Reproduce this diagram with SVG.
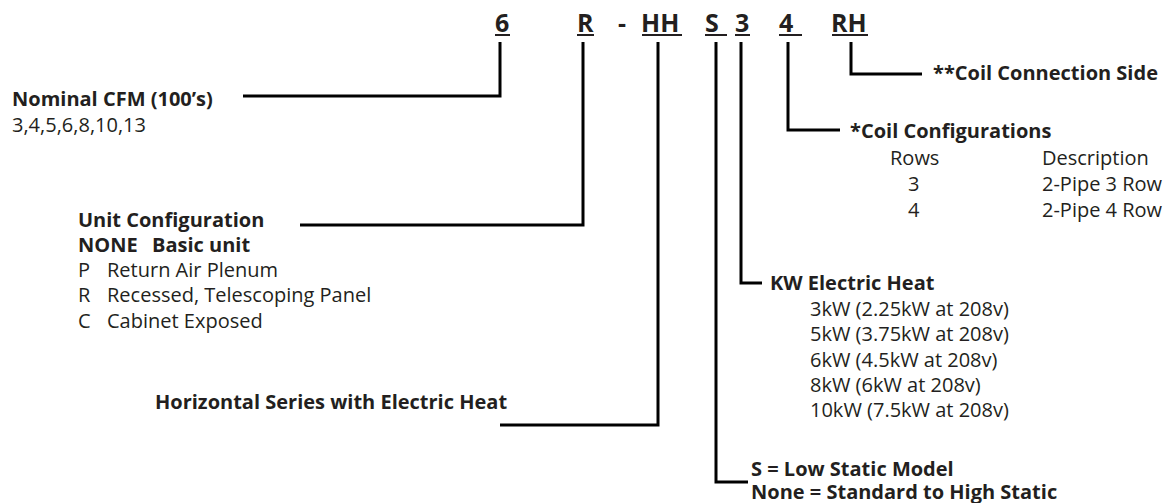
<svg xmlns="http://www.w3.org/2000/svg" width="1168" height="503" viewBox="0 0 1168 503">
<style>
text{font-family:"Open Sans","Noto Sans","Liberation Sans",sans-serif;fill:#231f20}
.h{font-size:25px;font-weight:bold}
.b{font-size:20px;font-weight:bold}
.r{font-size:20px}
.ln{fill:none;stroke:#000;stroke-width:3}
.ul{stroke:#231f20;stroke-width:2}
</style>
<rect width="1168" height="503" fill="#fff"/>
<g id="header">
<text class="h" x="495" y="32">6</text>
<text class="h" x="577" y="32">R</text>
<text class="h" x="618" y="32">-</text>
<text class="h" x="641" y="32">HH</text>
<text class="h" x="705" y="32">S</text>
<text class="h" x="735" y="32">3</text>
<text class="h" x="779" y="32">4</text>
<text class="h" x="831" y="32">RH</text>
<g class="ul">
<line x1="495" y1="35" x2="510" y2="35"/>
<line x1="577" y1="35" x2="594" y2="35"/>
<line x1="642" y1="35" x2="682" y2="35"/>
<line x1="705" y1="35" x2="727" y2="35"/>
<line x1="735" y1="35" x2="750" y2="35"/>
<line x1="779" y1="35" x2="802" y2="35"/>
<line x1="832" y1="35" x2="868" y2="35"/>
</g>
</g>
<g id="connectors" class="ln">
<path d="M500,42 V96 H243"/>
<path d="M583,42 V225 H300"/>
<path d="M658,42 V425 H500"/>
<path d="M716,42 V482 H748"/>
<path d="M741,42 V283 H762"/>
<path d="M788,42 V130 H840"/>
<path d="M851,42 V74 H922"/>
</g>
<g id="nominal-cfm">
<text class="b" x="12" y="106">Nominal CFM (100’s)</text>
<text class="r" x="12" y="132">3,4,5,6,8,10,13</text>
</g>
<g id="unit-configuration">
<text class="b" x="78" y="227">Unit Configuration</text>
<text class="b" x="78" y="252">NONE<tspan x="152">Basic unit</tspan></text>
<text class="r" x="78" y="277">P<tspan x="107">Return Air Plenum</tspan></text>
<text class="r" x="78" y="302">R<tspan x="107">Recessed, Telescoping Panel</tspan></text>
<text class="r" x="78" y="328">C<tspan x="107">Cabinet Exposed</tspan></text>
</g>
<g id="horizontal-series">
<text class="b" x="155" y="409" font-size="19.5">Horizontal Series with Electric Heat</text>
</g>
<g id="coil-connection-side">
<text class="b" x="933" y="80">**Coil Connection Side</text>
</g>
<g id="coil-configurations">
<text class="b" x="850" y="138">*Coil Configurations</text>
<text class="r" x="890" y="165">Rows</text>
<text class="r" x="1042" y="165">Description</text>
<text class="r" x="908" y="191">3</text>
<text class="r" x="1042" y="191">2-Pipe 3 Row</text>
<text class="r" x="908" y="217">4</text>
<text class="r" x="1042" y="217">2-Pipe 4 Row</text>
</g>
<g id="kw-electric-heat">
<text class="b" x="770" y="290">KW Electric Heat</text>
<text class="r" x="810" y="316">3kW (2.25kW at 208v)</text>
<text class="r" x="810" y="341">5kW (3.75kW at 208v)</text>
<text class="r" x="810" y="367">6kW (4.5kW at 208v)</text>
<text class="r" x="810" y="392">8kW (6kW at 208v)</text>
<text class="r" x="810" y="417">10kW (7.5kW at 208v)</text>
</g>
<g id="static-model">
<text class="b" x="751" y="476">S = Low Static Model</text>
<text class="b" x="751" y="499">None = Standard to High Static</text>
</g>
</svg>
